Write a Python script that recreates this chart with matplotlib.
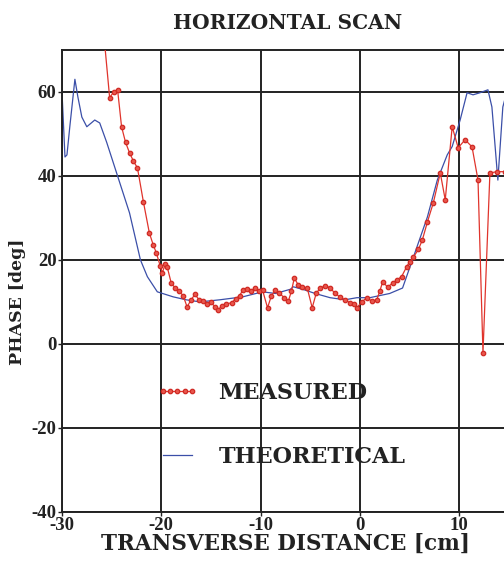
import numpy as np
import matplotlib
matplotlib.use("Agg")
import matplotlib.pyplot as plt

plt.rcParams["axes.unicode_minus"] = False

# measured phase (red, with markers)
meas_x = [-25.8, -25.2, -24.8, -24.4, -24.0, -23.6, -23.2, -22.8, -22.4, -21.8,
          -21.2, -20.8, -20.5, -20.1, -19.9, -19.6, -19.4, -19.0, -18.6, -18.2,
          -17.8, -17.4, -17.0, -16.6, -16.2, -15.8, -15.4, -15.0, -14.6, -14.3,
          -13.9, -13.5, -12.9, -12.5, -12.1, -11.8, -11.4, -11.0, -10.6, -10.2,
          -9.8, -9.3, -8.9, -8.5, -8.1, -7.6, -7.2, -6.9, -6.6, -6.2,
          -5.8, -5.3, -4.8, -4.4, -4.0, -3.5, -3.0, -2.5, -2.0, -1.5,
          -1.0, -0.6, -0.3, 0.2, 0.7, 1.2, 1.7, 2.0, 2.3, 2.8,
          3.3, 3.7, 4.2, 4.7, 5.0, 5.4, 5.9, 6.3, 6.8, 7.4,
          8.1, 8.6, 9.3, 9.9, 10.6, 11.3, 11.9, 12.4, 13.1, 13.8, 14.6]
meas_y = [74.0, 58.6, 60.0, 60.5, 51.7, 48.0, 45.5, 43.5, 41.9, 33.8,
          26.4, 23.5, 21.7, 18.5, 16.9, 19.0, 18.3, 14.5, 13.3, 12.5,
          11.5, 8.8, 10.5, 11.8, 10.5, 10.2, 9.5, 10.0, 8.8, 8.1,
          9.0, 9.5, 9.8, 10.8, 11.5, 12.8, 13.0, 12.5, 13.3, 12.5,
          12.8, 8.6, 11.5, 12.8, 12.0, 11.0, 10.2, 12.5, 15.7, 14.0,
          13.5, 13.3, 8.6, 12.0, 13.3, 13.8, 13.4, 12.0, 11.2, 10.5,
          9.8, 9.5, 8.6, 10.0, 11.0, 10.2, 10.5, 12.5, 14.8, 13.5,
          14.5, 15.2, 16.0, 18.3, 19.5, 20.7, 22.5, 24.8, 29.0, 33.6,
          40.7, 34.3, 51.7, 46.7, 48.6, 46.9, 39.0, -2.1, 40.7, 41.0, 41.0]

# theoretical phase (blue line)
theo_x = [-30.0, -29.7, -29.5, -29.2, -28.7, -28.4, -28.0, -27.5, -26.7, -26.2,
          -25.5, -24.5, -23.2, -22.1, -21.4, -20.4, -18.8, -17.5, -16.1, -14.1,
          -11.8, -9.8, -8.5, -7.0, -6.7, -5.5, -4.5, -3.0, -1.5, -0.3,
          1.0, 3.0, 4.3, 5.4, 6.8, 7.8, 8.8, 9.3, 10.1, 10.8,
          11.4, 12.1, 12.9, 13.3, 13.9, 14.4, 14.8]
theo_y = [60.0, 44.5, 45.0, 52.0, 63.0, 58.8, 54.0, 51.7, 53.3, 52.6,
          48.0, 40.7, 31.2, 20.0, 16.0, 12.4, 11.2, 10.5, 10.0, 10.5,
          11.2, 12.4, 12.0, 13.0, 13.6, 12.8, 12.0, 11.0, 10.5, 11.0,
          11.0, 12.0, 13.3, 20.7, 30.2, 39.0, 45.0, 47.0, 53.3, 59.8,
          59.3, 59.8, 60.5, 56.4, 39.0, 56.4, 60.0]

x_ticks = [-30, -20, -10, 0, 10]
y_ticks = [-40, -20, 0, 20, 40, 60]

serif = ["DejaVu Serif"]

fig = plt.figure(figsize=(5.04, 5.65), dpi=100)
# axes run past the right edge of the figure, like the cropped original
ax = fig.add_axes([0.123, 0.094, 0.985, 0.8177])

ax.plot(meas_x, meas_y, color="#e0342c", linewidth=0.9, marker="o",
        markersize=3.2, markerfacecolor="#e8564c", markeredgecolor="#d02a24",
        markeredgewidth=0.9, label="MEASURED", zorder=3)
ax.plot(theo_x, theo_y, color="#3b4fa8", linewidth=0.9, label="THEORETICAL", zorder=2)

ax.set_xlim(-30, 20)
ax.set_ylim(-40, 70)
ax.set_xticks(x_ticks)
ax.set_yticks(y_ticks)
ax.grid(True, color="#222222", linewidth=1.4)
ax.axvline(20, color="#222222", linewidth=1.4)
ax.set_axisbelow(True)
for s in ax.spines.values():
    s.set_linewidth(1.4)
    s.set_color("#222222")
ax.tick_params(length=3, width=1, pad=1, labelsize=13.5, colors="#222222")
for lab in ax.get_xticklabels() + ax.get_yticklabels():
    lab.set_family(["Liberation Serif"])
    lab.set_fontweight("bold")

ax.set_title("HORIZONTAL SCAN", family=serif, fontsize=14.5, fontweight="bold",
             pad=15, x=0.455, color="#222222")
ax.set_xlabel("TRANSVERSE DISTANCE [cm]", family=serif, fontsize=15.5,
              fontweight="bold", labelpad=-1, x=0.45, color="#222222")
ax.set_ylabel("PHASE [deg]", family=serif, fontsize=12.5, fontweight="bold",
              labelpad=4, y=0.455, color="#222222")

leg = ax.legend(loc="center left", bbox_to_anchor=(0.19, 0.188), frameon=False,
                numpoints=5, handlelength=1.9, handletextpad=0.9, labelspacing=1.9,
                borderpad=0, borderaxespad=0,
                prop={"family": serif, "size": 16, "weight": "bold"})
for t in leg.get_texts():
    t.set_color("#222222")

fig.savefig("out.png", dpi=100)
